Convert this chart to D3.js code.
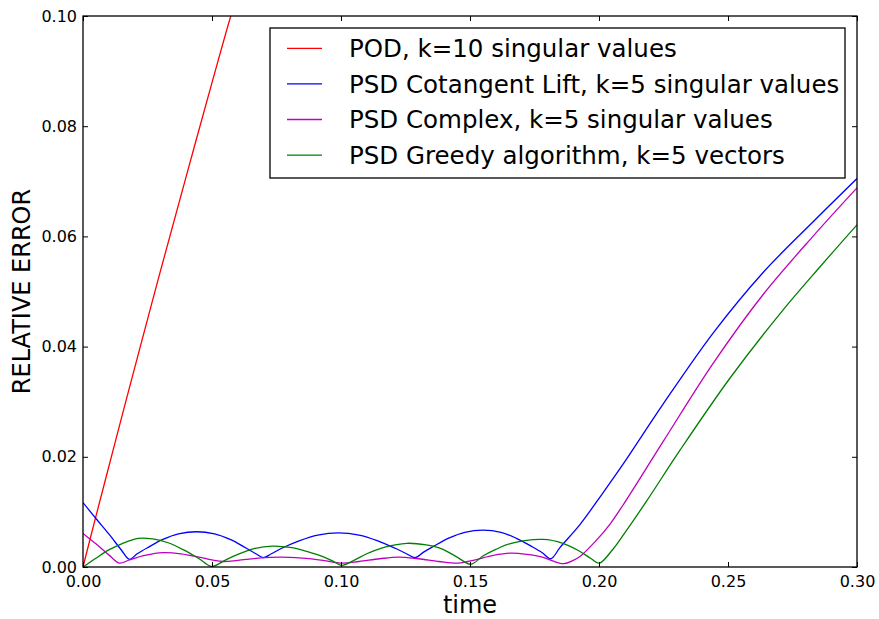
<!DOCTYPE html>
<html>
<head>
<meta charset="utf-8">
<script src="https://cdn.jsdelivr.net/npm/d3@7"></script>
<style>
  body { margin: 0; background: #fff; }
  text { font-family: "DejaVu Sans", sans-serif; fill: #000; }
</style>
</head>
<body>
<script>
// values (time, relative error)
var podT   = [0, 0.005, 0.010, 0.015, 0.020, 0.030, 0.040, 0.050, 0.0576, 0.062];
var podErr = [0, 0.0092, 0.0182, 0.0272, 0.0361, 0.0537, 0.0709, 0.0879, 0.1005, 0.107];

var cotT   = [0, 0.005, 0.010, 0.015, 0.018, 0.021, 0.025, 0.031, 0.037, 0.044, 0.051, 0.057, 0.063, 0.067, 0.070,
              0.073, 0.077, 0.084, 0.091, 0.099, 0.107, 0.114, 0.121, 0.125, 0.1287,
              0.132, 0.136, 0.142, 0.148, 0.155, 0.162, 0.168, 0.174, 0.178, 0.1813,
              0.185, 0.1926, 0.201, 0.2094, 0.2249, 0.2443, 0.2637, 0.2831, 0.30];
var cotErr = [0.0117, 0.0088, 0.0060, 0.0030, 0.0014, 0.0024, 0.0035, 0.0050, 0.0060, 0.0064, 0.0060, 0.0050, 0.0035, 0.0024, 0.0017,
              0.0024, 0.0034, 0.0048, 0.0058, 0.0062, 0.0058, 0.0048, 0.0034, 0.0025, 0.0017,
              0.0027, 0.0038, 0.0053, 0.0063, 0.0067, 0.0063, 0.0052, 0.0037, 0.0026, 0.0015,
              0.0036, 0.0077, 0.0131, 0.0187, 0.0296, 0.0425, 0.0535, 0.0627, 0.0705];

var cpxT   = [0, 0.005, 0.010, 0.0141, 0.018, 0.024, 0.031, 0.038, 0.045, 0.050, 0.0544, 0.060, 0.068, 0.0764, 0.085, 0.093,
              0.1005, 0.107, 0.115, 0.1222, 0.130, 0.138, 0.1455, 0.152, 0.159, 0.1655, 0.172, 0.178, 0.182, 0.1864,
              0.190, 0.1926, 0.1985, 0.2043, 0.2094, 0.2249, 0.2443, 0.2637, 0.2831, 0.30];
var cpxErr = [0.0061, 0.0042, 0.0022, 0.0007, 0.0013, 0.0021, 0.0026, 0.0024, 0.0018, 0.0013, 0.0010, 0.0012, 0.0016, 0.0018, 0.0016, 0.0012,
              0.0007, 0.0010, 0.0015, 0.0018, 0.0015, 0.0010, 0.0007, 0.0013, 0.0021, 0.0025, 0.0023, 0.0018, 0.0011, 0.0006,
              0.0012, 0.0019, 0.0046, 0.0078, 0.0113, 0.0228, 0.0370, 0.0495, 0.0601, 0.0688];

var grdT   = [0, 0.005, 0.010, 0.015, 0.0214, 0.027, 0.033, 0.039, 0.045, 0.0499,
              0.055, 0.060, 0.066, 0.0735, 0.081, 0.087, 0.093, 0.0975, 0.1003,
              0.105, 0.110, 0.117, 0.1255, 0.133, 0.139, 0.145, 0.1503,
              0.155, 0.160, 0.166, 0.1784, 0.186, 0.192, 0.197, 0.2001,
              0.205, 0.210, 0.2185, 0.2314, 0.2508, 0.2702, 0.2857, 0.30];
var grdErr = [0, 0.0016, 0.0031, 0.0042, 0.0052, 0.0051, 0.0044, 0.0031, 0.0015, 0.0001,
              0.0012, 0.0023, 0.0033, 0.0038, 0.0035, 0.0028, 0.0019, 0.0009, 0.0003,
              0.0012, 0.0024, 0.0036, 0.0043, 0.0040, 0.0033, 0.0018, 0.0005,
              0.0020, 0.0032, 0.0043, 0.0050, 0.0043, 0.0030, 0.0015, 0.0007,
              0.0030, 0.0062, 0.0120, 0.0212, 0.0343, 0.0460, 0.0545, 0.0621];

var seriesNames  = ["POD, k=10 singular values",
                    "PSD Cotangent Lift, k=5 singular values",
                    "PSD Complex, k=5 singular values",
                    "PSD Greedy algorithm, k=5 vectors"];
var seriesColors = ["#ff0000", "#0000ff", "#bf00bf", "#008000"];
var xTicks = [0, 0.05, 0.10, 0.15, 0.20, 0.25, 0.30];
var yTicks = [0, 0.02, 0.04, 0.06, 0.08, 0.10];

var width = 879, height = 619;
var margin = {left: 83, right: 22, top: 16, bottom: 52};
var plotW = width - margin.left - margin.right,
    plotH = height - margin.top - margin.bottom;

var svg = d3.select("body").append("svg")
    .attr("width", width)
    .attr("height", height);

var x = d3.scaleLinear().domain([0, 0.30]).range([0, plotW]);
var y = d3.scaleLinear().domain([0, 0.10]).range([plotH, 0]);

var g = svg.append("g")
    .attr("transform", "translate(" + margin.left + "," + margin.top + ")");

g.append("clipPath").attr("id", "clip")
  .append("rect").attr("width", plotW).attr("height", plotH);

function pairs(ts, vs) {
    return ts.map(function(t, i) { return [t, vs[i]]; });
}
var series = [pairs(podT, podErr), pairs(cotT, cotErr), pairs(cpxT, cpxErr), pairs(grdT, grdErr)];

var line = d3.line()
    .x(function(d) { return x(d[0]); })
    .y(function(d) { return y(d[1]); })
    .curve(d3.curveCatmullRom.alpha(0.5));

g.append("g").attr("clip-path", "url(#clip)")
  .selectAll("path")
  .data(series).enter()
  .append("path")
    .attr("d", line)
    .attr("fill", "none")
    .attr("stroke", function(d, i) { return seriesColors[i]; })
    .attr("stroke-width", 1.3);

// axes, ticks inside on all four sides
var tickLen = 5;
var xb = g.append("g").attr("transform", "translate(0," + plotH + ")")
    .call(d3.axisBottom(x).tickValues(xTicks).tickFormat(d3.format(".2f")).tickSizeInner(-tickLen).tickSizeOuter(0).tickPadding(9));
var xt = g.append("g")
    .call(d3.axisTop(x).tickValues(xTicks).tickFormat("").tickSizeInner(-tickLen).tickSizeOuter(0));
var yl = g.append("g")
    .call(d3.axisLeft(y).tickValues(yTicks).tickFormat(d3.format(".2f")).tickSizeInner(-tickLen).tickSizeOuter(0).tickPadding(6));
var yr = g.append("g").attr("transform", "translate(" + plotW + ",0)")
    .call(d3.axisRight(y).tickValues(yTicks).tickFormat("").tickSizeInner(-tickLen).tickSizeOuter(0));

[xb, xt, yl, yr].forEach(function(a) {
    a.select(".domain").remove();
    a.selectAll("line").attr("stroke", "#000");
    a.selectAll("text").style("font-size", "16px").attr("font-family", "DejaVu Sans");
});

g.append("rect")
    .attr("width", plotW).attr("height", plotH)
    .attr("fill", "none").attr("stroke", "#000").attr("stroke-width", 1.3);

// axis labels
svg.append("text")
    .attr("x", margin.left + plotW / 2).attr("y", 613)
    .attr("text-anchor", "middle")
    .style("font-size", "24px")
    .text("time");

svg.append("text")
    .attr("transform", "translate(30," + (margin.top + plotH / 2) + ") rotate(-90)")
    .attr("text-anchor", "middle")
    .style("font-size", "24px")
    .text("RELATIVE ERROR");

// legend
var legend = svg.append("g").attr("transform", "translate(270,28)");
legend.append("rect")
    .attr("width", 575).attr("height", 150)
    .attr("fill", "#fff").attr("stroke", "#000").attr("stroke-width", 1.3);

var rows = legend.selectAll(".legend")
    .data(seriesNames).enter()
    .append("g")
    .classed("legend", true)
    .attr("transform", function(d, i) { return "translate(0," + (20.3 + i * 35.6) + ")"; });

rows.append("line")
    .attr("x1", 17).attr("x2", 52)
    .attr("stroke", function(d, i) { return seriesColors[i]; })
    .attr("stroke-width", 1.3);

rows.append("text")
    .attr("x", 79)
    .attr("dy", "0.36em")
    .style("font-size", "24.5px")
    .text(function(d) { return d; });
</script>
</body>
</html>
